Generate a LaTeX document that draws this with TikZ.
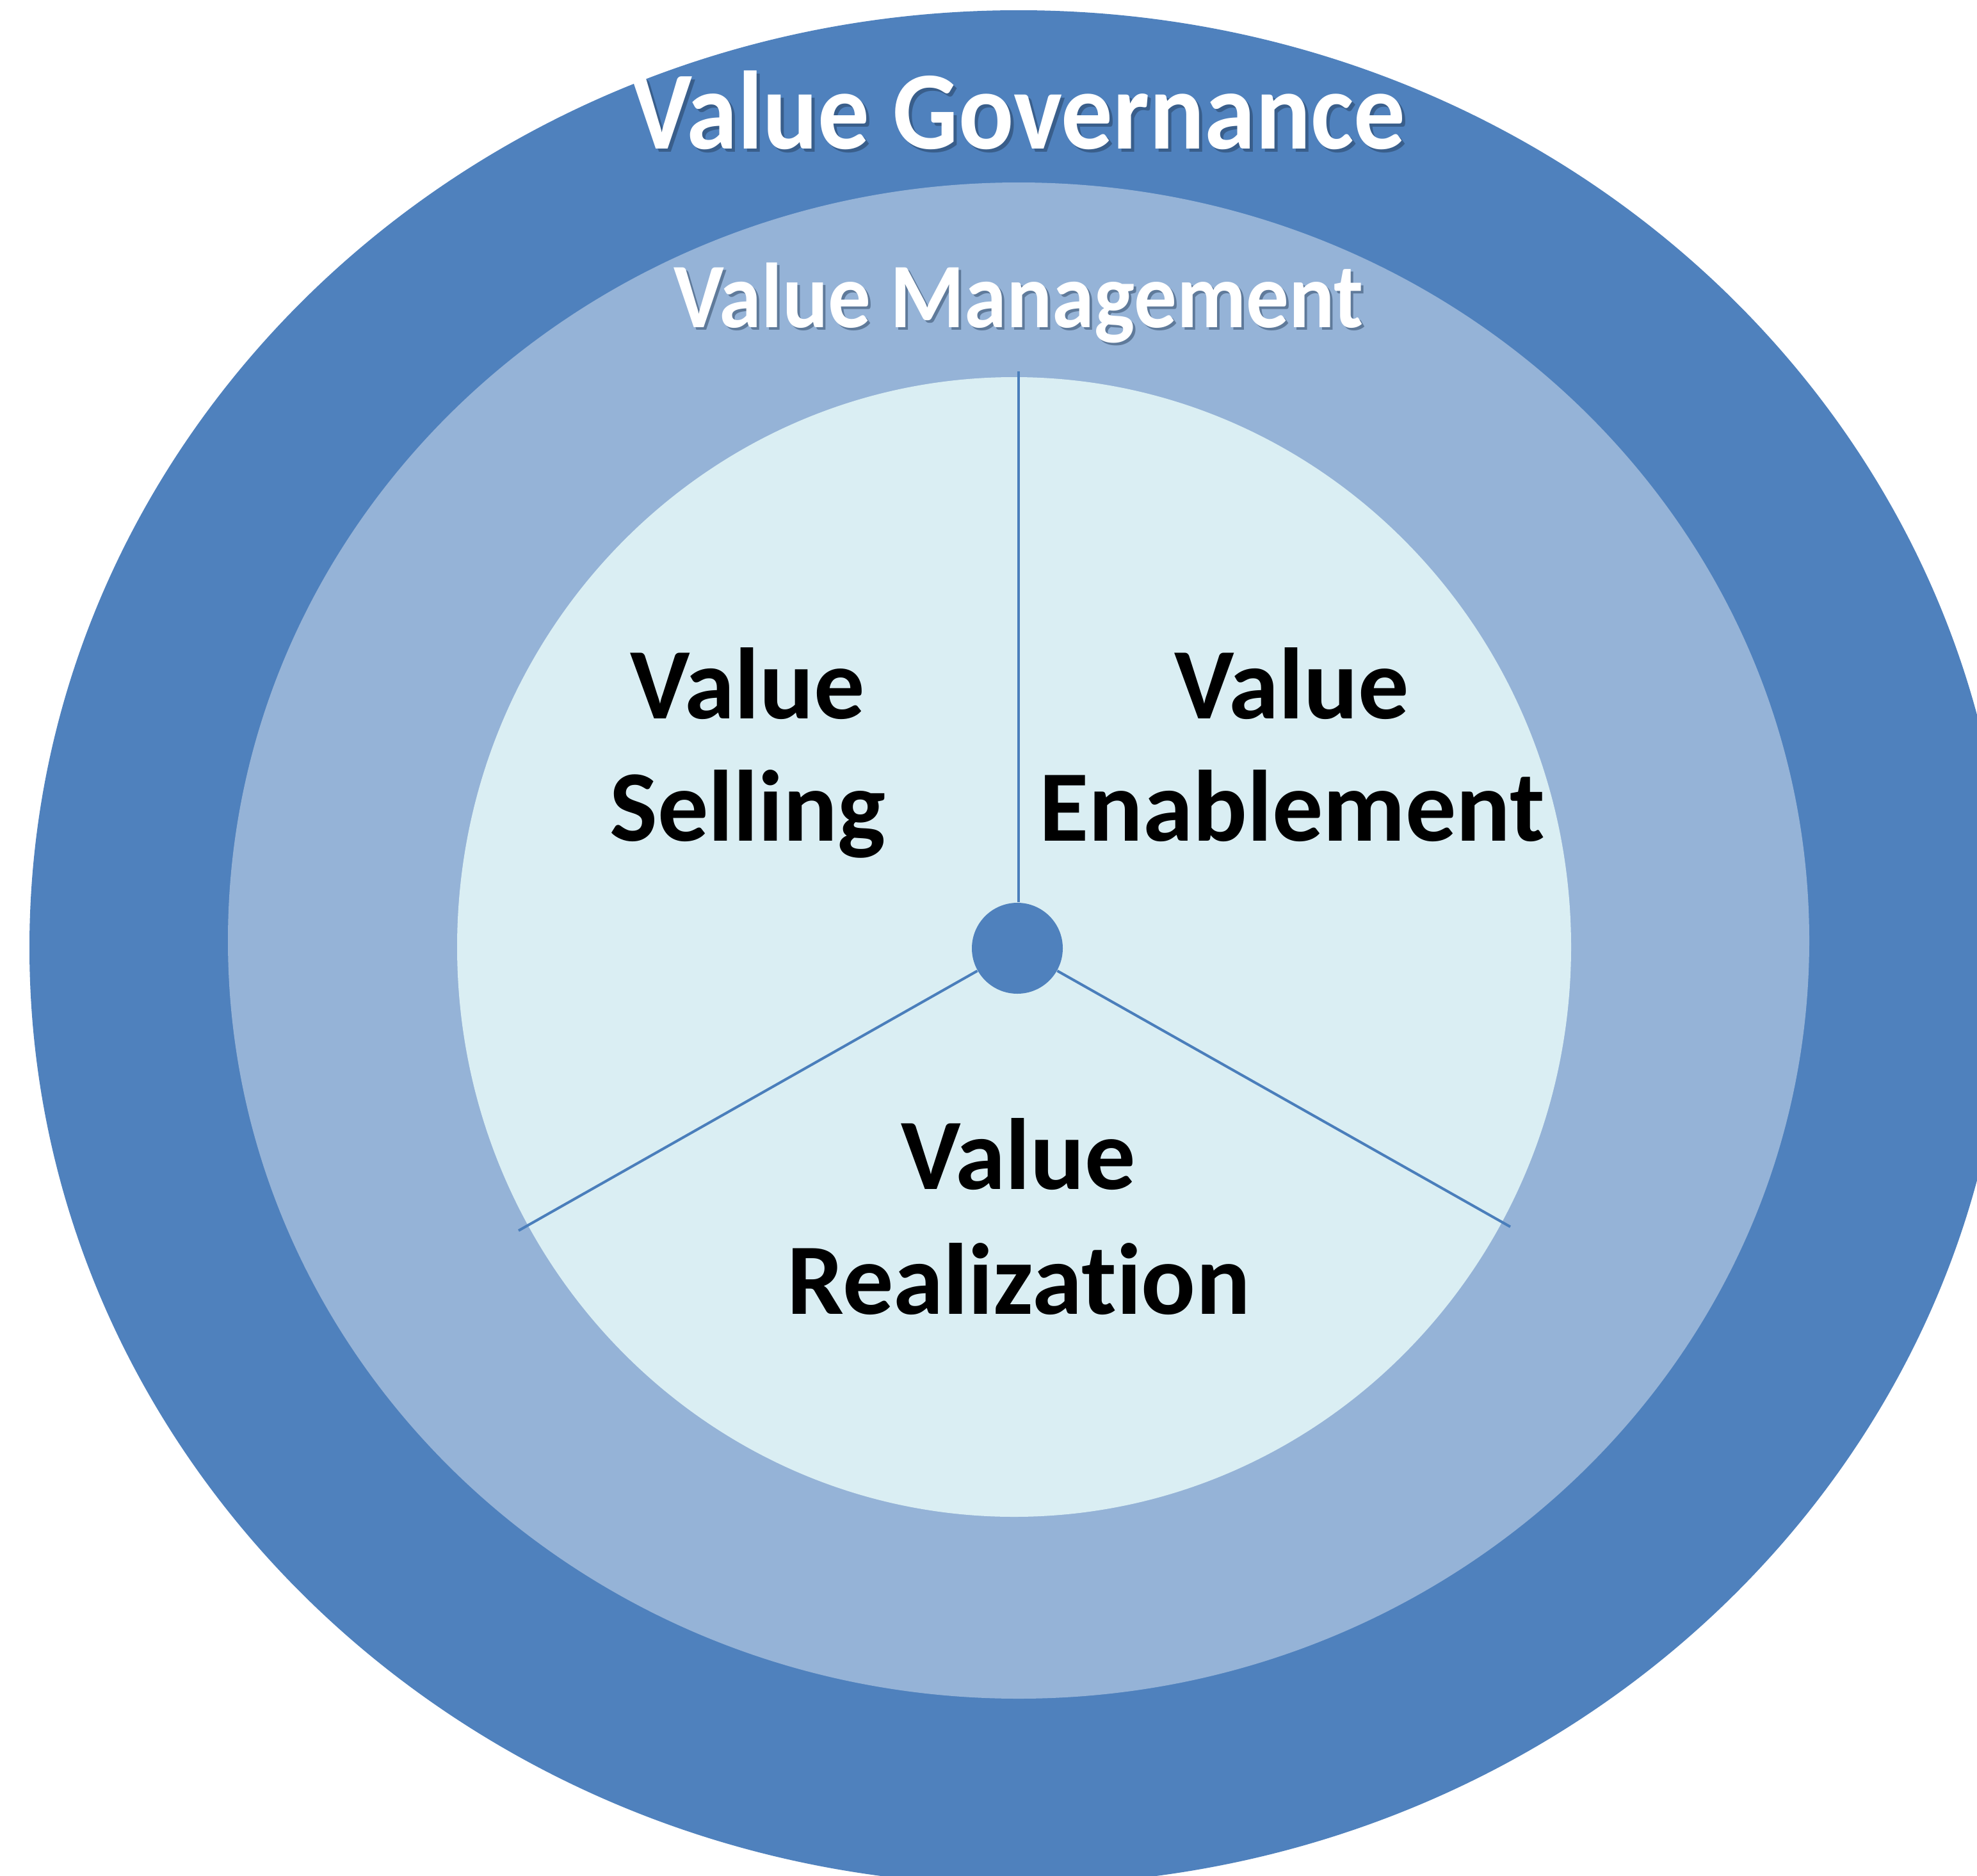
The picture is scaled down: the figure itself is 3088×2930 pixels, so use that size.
\documentclass[tikz,border=0pt]{standalone}
\usepackage{graphicx}
\usepackage{fontspec}
\setmainfont{Carlito}[Ligatures={NoCommon,NoDiscretionary,NoHistoric,NoContextual}]
\definecolor{govblue}{HTML}{4F81BD}
\definecolor{mgmtblue}{HTML}{95B3D7}
\definecolor{innerblue}{HTML}{DAEEF3}
\definecolor{lineblue}{HTML}{4A7EBB}
\definecolor{shadowcol}{HTML}{1F3550}
\newcommand{\narrowtext}[1]{\scalebox{0.923}[1]{#1}}
\begin{document}
\begin{tikzpicture}[x=0.1mm,y=-0.1mm,
  titlebig/.style={font=\bfseries\fontsize{49.5pt}{60pt}\selectfont, text=white, anchor=base, inner sep=0pt},
  titlemid/.style={font=\bfseries\fontsize{41pt}{50pt}\selectfont, text=white, anchor=base, inner sep=0pt},
  shade/.style={text=shadowcol, opacity=0.45},
  seglabel/.style={font=\bfseries\fontsize{45pt}{55pt}\selectfont, text=black, anchor=base, inner sep=0pt},
  spoke/.style={draw=lineblue, line width=1.15pt}]
\useasboundingbox (0,0) rectangle (3088,2930);
\clip (0,0) rectangle (3088,2930);
\fill[white] (0,0) rectangle (3088,2930);
% rings
\fill[govblue] (1591,1480) ellipse [x radius=1545, y radius=1464];
\fill[mgmtblue] (1591,1469) ellipse [x radius=1235, y radius=1184];
\fill[innerblue] (1584,1479) ellipse [x radius=870, y radius=890];
% hub and spokes
\node[circle, fill=govblue, minimum size=142*0.1mm, inner sep=0pt] (hub) at (1589,1481) {};
\coordinate (topend) at (1591,580);
\coordinate (leftend) at (810,1922);
\coordinate (rightend) at (2359,1916);
\draw[spoke] (hub.north -| topend) -- (topend);
\draw[spoke] (hub) -- (leftend);
\draw[spoke] (hub) -- (rightend);
% titles with shadows
\node[titlebig, shade] (govshadow) at (1596,237) {\narrowtext{Value Governance}};
\node[titlebig] (gov) at (1591,232) {\narrowtext{Value Governance}};
\node[titlemid, shade] (mgmtshadow) at (1595,515) {\narrowtext{Value Management}};
\node[titlemid] (mgmt) at (1591,511) {\narrowtext{Value Management}};
% segment labels
\node[seglabel] (sell1) at (1168,1122) {Value};
\node[seglabel] (sell2) at (1168,1313) {Selling};
\node[seglabel] (enab1) at (2018,1122) {Value};
\node[seglabel] (enab2) at (2018,1313) {Enablement};
\node[seglabel] (real1) at (1591,1857) {Value};
\node[seglabel] (real2) at (1591,2052) {Realization};
\end{tikzpicture}
\end{document}
